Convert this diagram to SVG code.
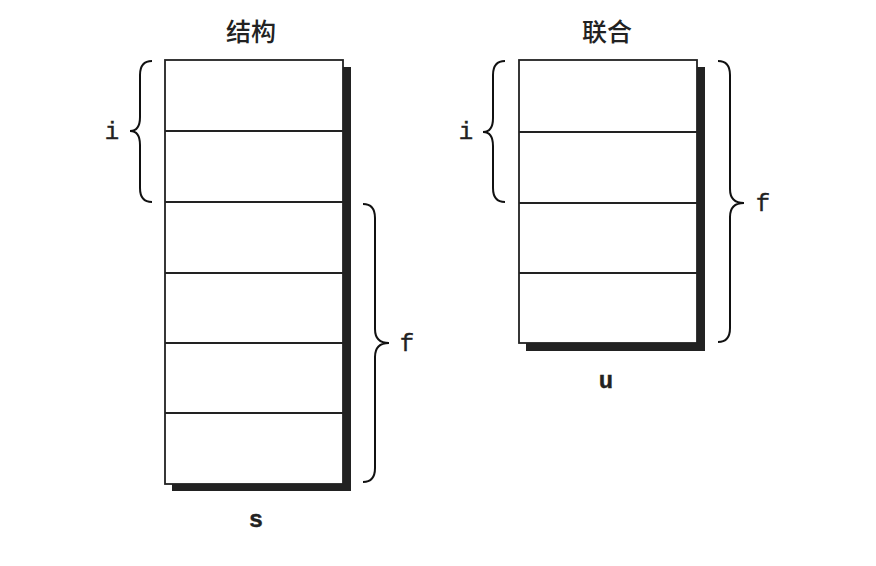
<svg xmlns="http://www.w3.org/2000/svg" width="876" height="566" viewBox="0 0 876 566">
<style>
.box{fill:#fff;stroke:#222;stroke-width:1.8}
.shadow{fill:#222}
.row{stroke:#222;stroke-width:1.8}
.brace{fill:none;stroke:#111;stroke-width:2}
.title{font-family:"Noto Sans CJK SC","Noto Sans",sans-serif;font-size:25px;font-weight:500;fill:#222;text-anchor:middle}
.lbl{font-family:"Liberation Mono","DejaVu Sans Mono",monospace;font-size:24px;fill:#222;text-anchor:middle;stroke:#222;stroke-width:0.4}
</style>
<rect width="876" height="566" fill="#fff"/>
<g id="struct">
<text class="title" x="251" y="41">结构</text>
<rect class="shadow" x="172" y="67" width="179" height="424"/>
<rect class="box" x="165" y="60" width="178" height="424"/>
<line class="row" x1="165" y1="131" x2="343" y2="131"/>
<line class="row" x1="165" y1="202" x2="343" y2="202"/>
<line class="row" x1="165" y1="273" x2="343" y2="273"/>
<line class="row" x1="165" y1="343" x2="343" y2="343"/>
<line class="row" x1="165" y1="413" x2="343" y2="413"/>
<text class="lbl" x="256" y="527" font-weight="bold">s</text>
</g>
<g id="union">
<text class="title" x="607" y="41">联合</text>
<rect class="shadow" x="526" y="67" width="179" height="284"/>
<rect class="box" x="519" y="60" width="178" height="283"/>
<line class="row" x1="519" y1="132" x2="697" y2="132"/>
<line class="row" x1="519" y1="203" x2="697" y2="203"/>
<line class="row" x1="519" y1="273" x2="697" y2="273"/>
<text class="lbl" x="606" y="388" font-weight="bold">u</text>
</g>
<g id="braces">
<path class="brace" d="M152,61 Q140,61 140,75 L140,117 Q140,131 130,131 Q140,131 140,145 L140,188 Q140,202 152,202"/>
<text class="lbl" x="112" y="139">i</text>
<path class="brace" d="M363,204 Q375,204 375,218 L375,329 Q375,343 389,343 Q375,343 375,357 L375,468 Q375,482 363,482"/>
<text class="lbl" x="407" y="351">f</text>
<path class="brace" d="M505,61 Q493,61 493,75 L493,118 Q493,132 483,132 Q493,132 493,146 L493,188 Q493,202 505,202"/>
<text class="lbl" x="466" y="139">i</text>
<path class="brace" d="M718,61 Q730,61 730,75 L730,189 Q730,203 744,203 Q730,203 730,217 L730,328 Q730,342 718,342"/>
<text class="lbl" x="763" y="211">f</text>
</g>
</svg>
